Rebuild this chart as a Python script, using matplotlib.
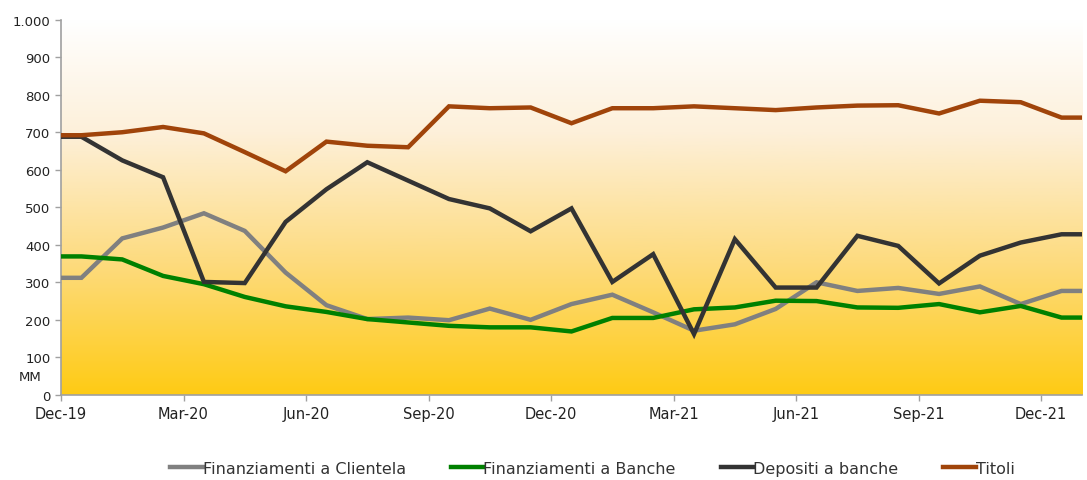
import numpy as np
import matplotlib
matplotlib.use('Agg')
import matplotlib.pyplot as plt
from matplotlib.colors import LinearSegmentedColormap
from matplotlib.ticker import FuncFormatter

# mesi da Dec-19 a Dec-21, valori a metà mese
mesi = ['Dec-19', 'Jan-20', 'Feb-20', 'Mar-20', 'Apr-20', 'May-20', 'Jun-20',
        'Jul-20', 'Aug-20', 'Sep-20', 'Oct-20', 'Nov-20', 'Dec-20', 'Jan-21',
        'Feb-21', 'Mar-21', 'Apr-21', 'May-21', 'Jun-21', 'Jul-21', 'Aug-21',
        'Sep-21', 'Oct-21', 'Nov-21', 'Dec-21']

fin_clientela = [312, 417, 446, 484, 437, 326, 239, 202, 206, 199, 230, 200, 242,
                 267, 220, 171, 188, 229, 300, 277, 285, 269, 289, 242, 277]
fin_banche = [369, 361, 317, 295, 261, 236, 221, 202, 193, 184, 180, 180, 169,
              205, 205, 228, 233, 251, 250, 233, 232, 242, 220, 237, 206]
depositi = [688, 625, 580, 301, 298, 461, 548, 620, 571, 522, 497, 436, 497,
            301, 375, 162, 415, 286, 286, 424, 397, 297, 371, 406, 428]
titoli = [692, 700, 714, 697, 647, 596, 675, 664, 660, 769, 764, 766, 724,
          764, 764, 769, 764, 759, 766, 771, 772, 750, 784, 780, 739]

serie = [
    ('Finanziamenti a Clientela', fin_clientela, '#808080'),
    ('Finanziamenti a Banche', fin_banche, '#008000'),
    ('Depositi a banche', depositi, '#333333'),
    ('Titoli', titoli, '#A0440A'),
]

n = len(mesi)
# punti a metà mese, con prolungamento piatto fino ai bordi dell'asse
x = np.concatenate([[0], np.arange(n) + 0.5, [n]])

fig = plt.figure(figsize=(10.87, 4.81), dpi=100)
ax = fig.add_axes([0.0561, 0.177, 0.9393, 0.780])

# sfondo sfumato bianco -> giallo oro
cmap = LinearSegmentedColormap.from_list(
    'sfondo', [(0.0, '#FFCB14'), (0.35, '#FDDB7E'), (0.7, '#FDF0DA'), (1.0, '#FFFFFF')])
grad = np.linspace(0, 1, 256).reshape(-1, 1)
ax.imshow(grad, aspect='auto', cmap=cmap, origin='lower',
          extent=[0, n, 0, 1000], zorder=0)

for nome, valori, colore in serie:
    y = np.concatenate([[valori[0]], valori, [valori[-1]]])
    ax.plot(x, y, color=colore, lw=3.2, label=nome, zorder=3,
            solid_joinstyle='miter')

ax.set_xlim(0, n)
ax.set_ylim(0, 1000)
ax.set_xticks(np.arange(0, n, 3))
ax.set_xticklabels(mesi[::3])
ax.set_yticks(np.arange(0, 1001, 100))
ax.yaxis.set_major_formatter(FuncFormatter(lambda v, p: f'{int(v):,}'.replace(',', '.')))

for s in ['top', 'right']:
    ax.spines[s].set_visible(False)
for s in ['left', 'bottom']:
    ax.spines[s].set_color('#A0A0A0')
    ax.spines[s].set_linewidth(1.2)
ax.tick_params(axis='both', colors='#A0A0A0', labelcolor='#222222',
               labelsize=9.5, length=4, width=1)
ax.tick_params(axis='x', pad=4, labelsize=10.5)

ax.text(-0.030, 0.05, 'MM', transform=ax.transAxes, ha='center', va='center',
        fontsize=9.5, color='#222222')

fig.legend(*ax.get_legend_handles_labels(), loc='center',
           bbox_to_anchor=(0.545, 0.024), ncol=4, frameon=False,
           fontsize=11.5, handlelength=2.05, handletextpad=0.0,
           columnspacing=2.8, labelcolor='#333333')

fig.savefig('out.png', dpi=100)
